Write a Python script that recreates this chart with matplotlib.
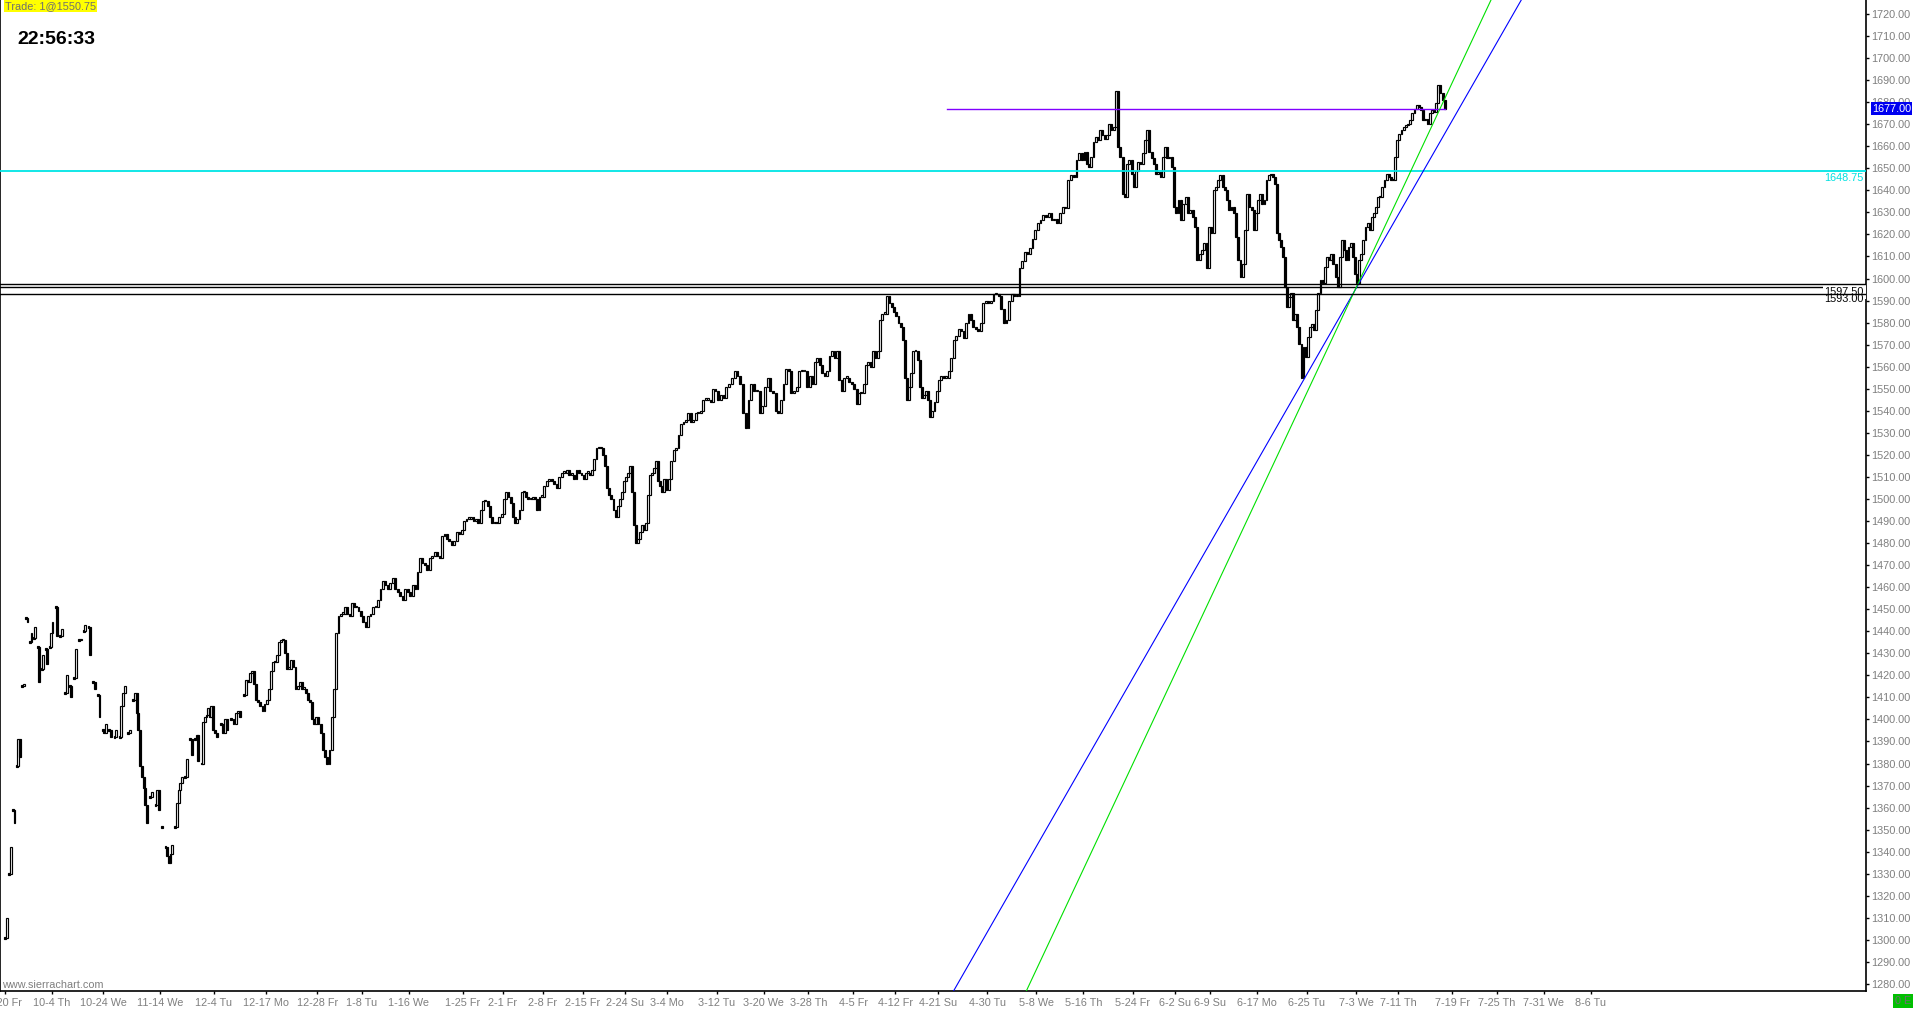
import matplotlib
matplotlib.use("Agg")
import matplotlib.pyplot as plt
import numpy as np

plt.rcParams['font.family'] = ['Liberation Sans', 'DejaVu Sans']

# date labels on the time scale and the bar number each one sits on
date_labels = ["9-20 Fr", "10-4 Th", "10-24 We", "11-14 We", "12-4 Tu", "12-17 Mo",
               "12-28 Fr", "1-8 Tu", "1-16 We", "1-25 Fr", "2-1 Fr", "2-8 Fr",
               "2-15 Fr", "2-24 Su", "3-4 Mo", "3-12 Tu", "3-20 We", "3-28 Th",
               "4-5 Fr", "4-12 Fr", "4-21 Su", "4-30 Tu", "5-8 We", "5-16 Th",
               "5-24 Fr", "6-2 Su", "6-9 Su", "6-17 Mo", "6-25 Tu", "7-3 We",
               "7-11 Th", "7-19 Fr", "7-25 Th", "7-31 We", "8-6 Tu"]
label_bars = [2, 22, 44, 68, 91, 113, 135, 154, 174, 197, 214, 231, 248, 266, 284,
              305, 325, 344, 363, 381, 399, 420, 441, 461, 482, 500, 515, 535, 556,
              577, 595, 618, 637, 657, 677]

# closes, one list per date interval (None = no bar printed)
closes_by_interval = [
    [1301, 1310, None, 1330, 1342, None, 1359, 1353, None, 1379, 1391, 1383, None,
     1415, 1416, None, 1446, 1444, None, 1435, 1439, None, 1437, 1442, None, 1433,
     1417, None, 1423, 1429, None, 1432, 1425, None, 1433, 1439],
    [1444, None, 1451, 1438, None, 1438, 1441, None, 1412, 1420, None, 1415, 1410,
     None, 1419, 1432, None, 1436, 1436, None, 1440, 1443, None, 1442, 1429, None,
     1417, 1414, None, 1411, 1401, None, 1395],
    [1394, 1398, None, 1395, 1392, None, 1392, 1395, None, 1392, 1406, 1412, 1415,
     None, 1394, 1395, None, 1409, 1412, 1403, 1395, 1379, 1374, 1369, 1361, 1353,
     None, 1365, 1367, None, 1361, 1368, 1359],
    [None, 1351, None, 1342, 1338, 1335, 1339, 1343, None, 1351, 1362, 1368, 1371,
     1374, None, 1374, 1382, None, 1391, 1384, None, 1391, 1393, 1381, None, 1380,
     1399, 1401, 1402, 1405, 1401, 1406, 1395],
    [1394, 1392, None, 1398, 1394, 1400, 1395, None, 1400, 1398, 1403, 1404, 1401,
     None, 1411, 1418, 1417, 1421, 1422, 1416, 1409, 1408, 1406, 1404, 1407],
    [1409, 1414, 1422, 1426, 1426, 1429, 1435, 1436, 1436, 1430, 1423, 1423, 1427,
     1424, 1414, 1415, 1417, 1414, 1414, 1412, 1409, 1408, 1400, 1398, 1401],
    [1398, 1394, 1386, 1383, 1380, 1386, 1401, 1414, 1439, 1447, 1448, 1448, 1451,
     1448, 1447, 1453, 1451, 1451, 1449, 1447],
    [1444, 1442, 1447, 1448, 1451, 1451, 1454, 1459, 1463, 1461, 1459, 1462, 1464,
     1459, 1458, 1456, 1454, 1459, 1458],
    [1456, 1461, 1459, 1467, 1473, 1471, 1470, 1468, 1473, 1474, 1476, 1474, 1473,
     1483, 1484, 1482, 1481, 1479, 1481, 1485, 1484, 1486],
    [1490, 1491, 1491, 1492, 1490, 1491, 1489, 1495, 1499, 1499, 1497, 1492, 1489,
     1489, 1489, 1492, 1493],
    [1500, 1503, 1501, 1498, 1492, 1489, 1491, 1495, 1503, 1503, 1501, 1500, 1500,
     1501, 1500, 1495, 1501, 1501],
    [1506, 1508, 1509, 1508, 1507, 1505, 1510, 1512, 1512, 1513, 1511, 1511, 1509,
     1513, 1512, 1511],
    [1509, 1512, 1512, 1511, 1513, 1518, 1523, 1523, 1523, 1520, 1515, 1505, 1502,
     1500, 1495, 1492, 1497, 1500, 1503, 1508],
    [1510, 1512, 1515, 1503, 1488, 1480, 1482, 1485, 1488, 1486, 1489, 1502, 1511,
     1512, 1514, 1517, 1508, 1506, 1503, 1509, 1504],
    [1509, 1517, 1522, 1523, 1529, 1534, 1535, 1536, 1539, 1535, 1536, 1539, 1539,
     1540, 1545, 1545, 1545, 1544, 1550, 1549],
    [1545, 1547, 1546, 1551, 1552, 1555, 1558, 1556, 1552, 1539, 1532, 1545, 1552,
     1549, 1549, 1539, 1542],
    [1551, 1555, 1549, 1548, 1540, 1539, 1545, 1552, 1559, 1558, 1548, 1549, 1551,
     1558, 1558, 1558, 1551],
    [1556, 1552, 1562, 1564, 1561, 1557, 1556, 1558, 1565, 1567, 1564, 1567, 1554,
     1549, 1555, 1555, 1553, 1552],
    [1550, 1543, 1548, 1548, 1552, 1561, 1562, 1560, 1567, 1564, 1567, 1581, 1584,
     1584, 1592, 1589, 1587, 1585],
    [1583, 1580, 1578, 1572, 1555, 1545, 1551, 1557, 1567, 1567, 1563, 1551, 1546,
     1547, 1549, 1545, 1537, 1540, 1544, 1549],
    [1554, 1556, 1555, 1555, 1558, 1564, 1572, 1574, 1577, 1576, 1573, 1580, 1584,
     1581, 1578, 1577, 1576, 1580, 1589, 1590],
    [1589, 1590, 1593, 1593, 1592, 1586, 1580, 1581, 1590, 1593, 1592, 1592, 1605,
     1608, 1612, 1611, 1614, 1618, 1622],
    [1625, 1626.5, 1629, 1628, 1629.5, 1626.5, 1627, 1625, 1629.5, 1632.5, 1632,
     1644.5, 1647, 1646, 1653.75, 1656.75, 1653.75],
    [1657.5, 1652, 1650.75, 1655, 1662, 1664, 1662.75, 1667.25, 1665, 1663.5, 1665,
     1670.25, 1667.25, 1668.75, 1685, 1659.75, 1655, 1638.5, 1637, 1652, 1653.75,
     1647.5],
    [1641.5, 1649, 1653, 1652, 1656.75, 1662.75, 1667.25, 1657.5, 1654.5, 1652,
     1647.5, 1648.5, 1646, 1655, 1659.75, 1654.5, 1655, 1650.75, 1632.5],
    [1629.5, 1635.5, 1626.5, 1634, 1637, 1629.5, 1631, 1628, 1623.5, 1608.25,
     1611.25, 1612.75, 1616, 1605, 1623.5],
    [1620.5, 1640, 1641.5, 1644.5, 1647, 1641.5, 1640, 1635.5, 1631, 1632.5, 1629.5,
     1619, 1608.25, 1600.75, 1606.75, 1622, 1638.5, 1632.5, 1631, 1622, 1629.5],
    [1635.5, 1638.5, 1634, 1635.5, 1644.5, 1647, 1647.5, 1646, 1643, 1620.5, 1617.5,
     1614.5, 1609.75, 1596.25, 1587, 1591.75, 1593.25, 1581, 1584, 1578, 1570.5,
     1555, 1569, 1564.5],
    [1573.5, 1578, 1579.5, 1576.5, 1585.5, 1593.25, 1599.25, 1597.75, 1605.25,
     1609.75, 1608.25, 1611.25, 1606.75, 1600.75, 1596.25, 1609.75, 1617.5, 1612.75,
     1608.25, 1614.5, 1616, 1609.75, 1602.25],
    [1597.75, 1608.25, 1611.25, 1617.5, 1623.5, 1625, 1622, 1628, 1629.5, 1632.5,
     1637, 1637, 1641.5, 1644.5, 1647.5, 1646, 1644.5, 1644.5, 1655, 1662.75],
    [1665.75, 1667.25, 1668.75, 1669.5, 1670.25, 1671.75, 1675, 1677, 1678.75, 1678,
     1676.5, 1671.75, 1672.5, 1670.25, 1675, 1676.5, 1675.5, 1679.5, 1687.75, 1684,
     1681, 1677, None, None, None],
]

last_price = 1677.00
trade_text = "Trade: 1@1550.75"
clock_text = "22:56:33"

# drawn levels and tools
cyan_level = 1648.75
black_levels = [1597.50, 1596.25, 1593.00]
purple_level = 1677.00
purple_start_bar = 403
blue_trend = [(553.6, 1551.9), (576.6, 1594.7)]
green_trend = [(576.6, 1594.8), (612.8, 1677.1)]

price_ticks = np.arange(1280, 1721, 10)

# ---- bar positions inside each date interval ----
xs, cl = [], []
for k, seg in enumerate(closes_by_interval):
    a, b = label_bars[k], label_bars[k + 1]
    step = (b - a) / len(seg)
    for j, c in enumerate(seg):
        xs.append(a + (j + 0.5) * step)
        cl.append(c)

bx, bottom, height, face = [], [], [], []
prev = None
for x, c in zip(xs, cl):
    if c is None:
        prev = None
        continue
    if prev is None:
        bx.append(x); bottom.append(c - 0.45); height.append(0.9); face.append('black')
    else:
        lo, hi = min(prev, c), max(prev, c)
        h = max(hi - lo, 0.6)
        bx.append(x); bottom.append(lo); height.append(h)
        face.append('white' if c >= prev else 'black')
    prev = c
last_bar_x = bx[-1]

W, H = 1916, 1009
fig = plt.figure(figsize=(W / 100, H / 100), dpi=100)
fig.patch.set_facecolor('white')
ax = fig.add_axes([0, 18 / H, 1866 / W, 991 / H])
ax.set_xlim(0, 794.04)
ax.set_ylim(1276.8, 1726.35)

ax.bar(bx, height, bottom=bottom, width=0.8, color=face, edgecolor='black',
       linewidth=0.85, zorder=3)

# horizontal levels
ax.axhline(cyan_level, color='#00e5e5', lw=1.3, zorder=4)
ax.axhline(black_levels[0], color='black', lw=1.0, zorder=6)
ax.axhline(black_levels[1], color='black', lw=1.0, zorder=4)
ax.axhline(black_levels[2], color='black', lw=1.0, zorder=6)
ax.plot([purple_start_bar, last_bar_x], [purple_level, purple_level],
        color='#8000ff', lw=1.0, zorder=4)

# trend lines
ax.axline(blue_trend[0], blue_trend[1], color='#0000ff', lw=0.8, zorder=4)
ax.axline(green_trend[0], green_trend[1], color='#00e000', lw=0.8, zorder=4)

lab_font = dict(fontsize=7.8)
ax.annotate(f"{cyan_level:.2f}", xy=(1, cyan_level), xycoords=('axes fraction', 'data'),
            xytext=(-2, -7), textcoords='offset pixels', ha='right', va='center',
            color='#00e0e0', **lab_font, zorder=5)
ax.annotate(f"{black_levels[0]:.2f}", xy=(1, black_levels[0]), xycoords=('axes fraction', 'data'),
            xytext=(-2, -8), textcoords='offset pixels', ha='right', va='center',
            color='black', **lab_font, zorder=5,
            bbox=dict(boxstyle='square,pad=0.15', fc='white', ec='none'))
ax.annotate(f"{black_levels[2]:.2f}", xy=(1, black_levels[2]), xycoords=('axes fraction', 'data'),
            xytext=(-2, -5), textcoords='offset pixels', ha='right', va='center',
            color='black', **lab_font, zorder=5)

# price scale on the right
ax.spines['top'].set_visible(False)
for s in ['left', 'right', 'bottom']:
    ax.spines[s].set_linewidth(1.2)
    ax.spines[s].set_color('black')
ax.yaxis.tick_right()
ax.set_yticks(price_ticks)
ax.set_yticklabels([f"{v:.2f}" for v in price_ticks])
ax.tick_params(axis='y', length=2, width=1, pad=2, labelsize=7.8, colors='black')
ax.tick_params(axis='y', labelcolor='#7f7f7f')

ax.annotate(f"{last_price:.2f}", xy=(1, last_price), xycoords=('axes fraction', 'data'),
            xytext=(6, 0), textcoords='offset pixels', ha='left', va='center',
            color='white', fontsize=7.8, annotation_clip=False, zorder=10,
            bbox=dict(boxstyle='square,pad=0.12', fc='#0000f0', ec='none'))

# time scale: labels centred on their tick
vis = [b for b in label_bars if 0 <= b <= 794]
ax.set_xticks(vis)
ax.set_xticklabels([''] * len(vis))
ax.tick_params(axis='x', length=2.5, width=1, colors='black')
for lab, b in zip(date_labels, label_bars):
    ax.annotate(lab, xy=(b, 0), xycoords=('data', 'axes fraction'),
                xytext=(0, -12), textcoords='offset pixels', ha='center', va='center',
                color='#7f7f7f', fontsize=7.8, annotation_clip=False)

ax.text(2 / 1866, 6 / 991, "www.sierrachart.com", transform=ax.transAxes,
        color='#7f7f7f', fontsize=7.8, ha='left', va='center')

# header texts
fig.text(5 / W, 1 - 6 / H, trade_text, color='#6f6f6f', fontsize=7.8, ha='left',
         va='center', bbox=dict(boxstyle='square,pad=0.12', fc='#ffff00', ec='none'))
fig.text(17 / W, 1 - 40 / H, clock_text, color='black', fontsize=14,
         fontweight='bold', ha='left', va='center')
fig.text(1895 / W, 1 - 1001 / H, "0 E", color='#6f6f6f', fontsize=7.8, ha='left',
         va='center', bbox=dict(boxstyle='square,pad=0.15', fc='#00c000', ec='none'))

fig.savefig('out.png', dpi=100)
